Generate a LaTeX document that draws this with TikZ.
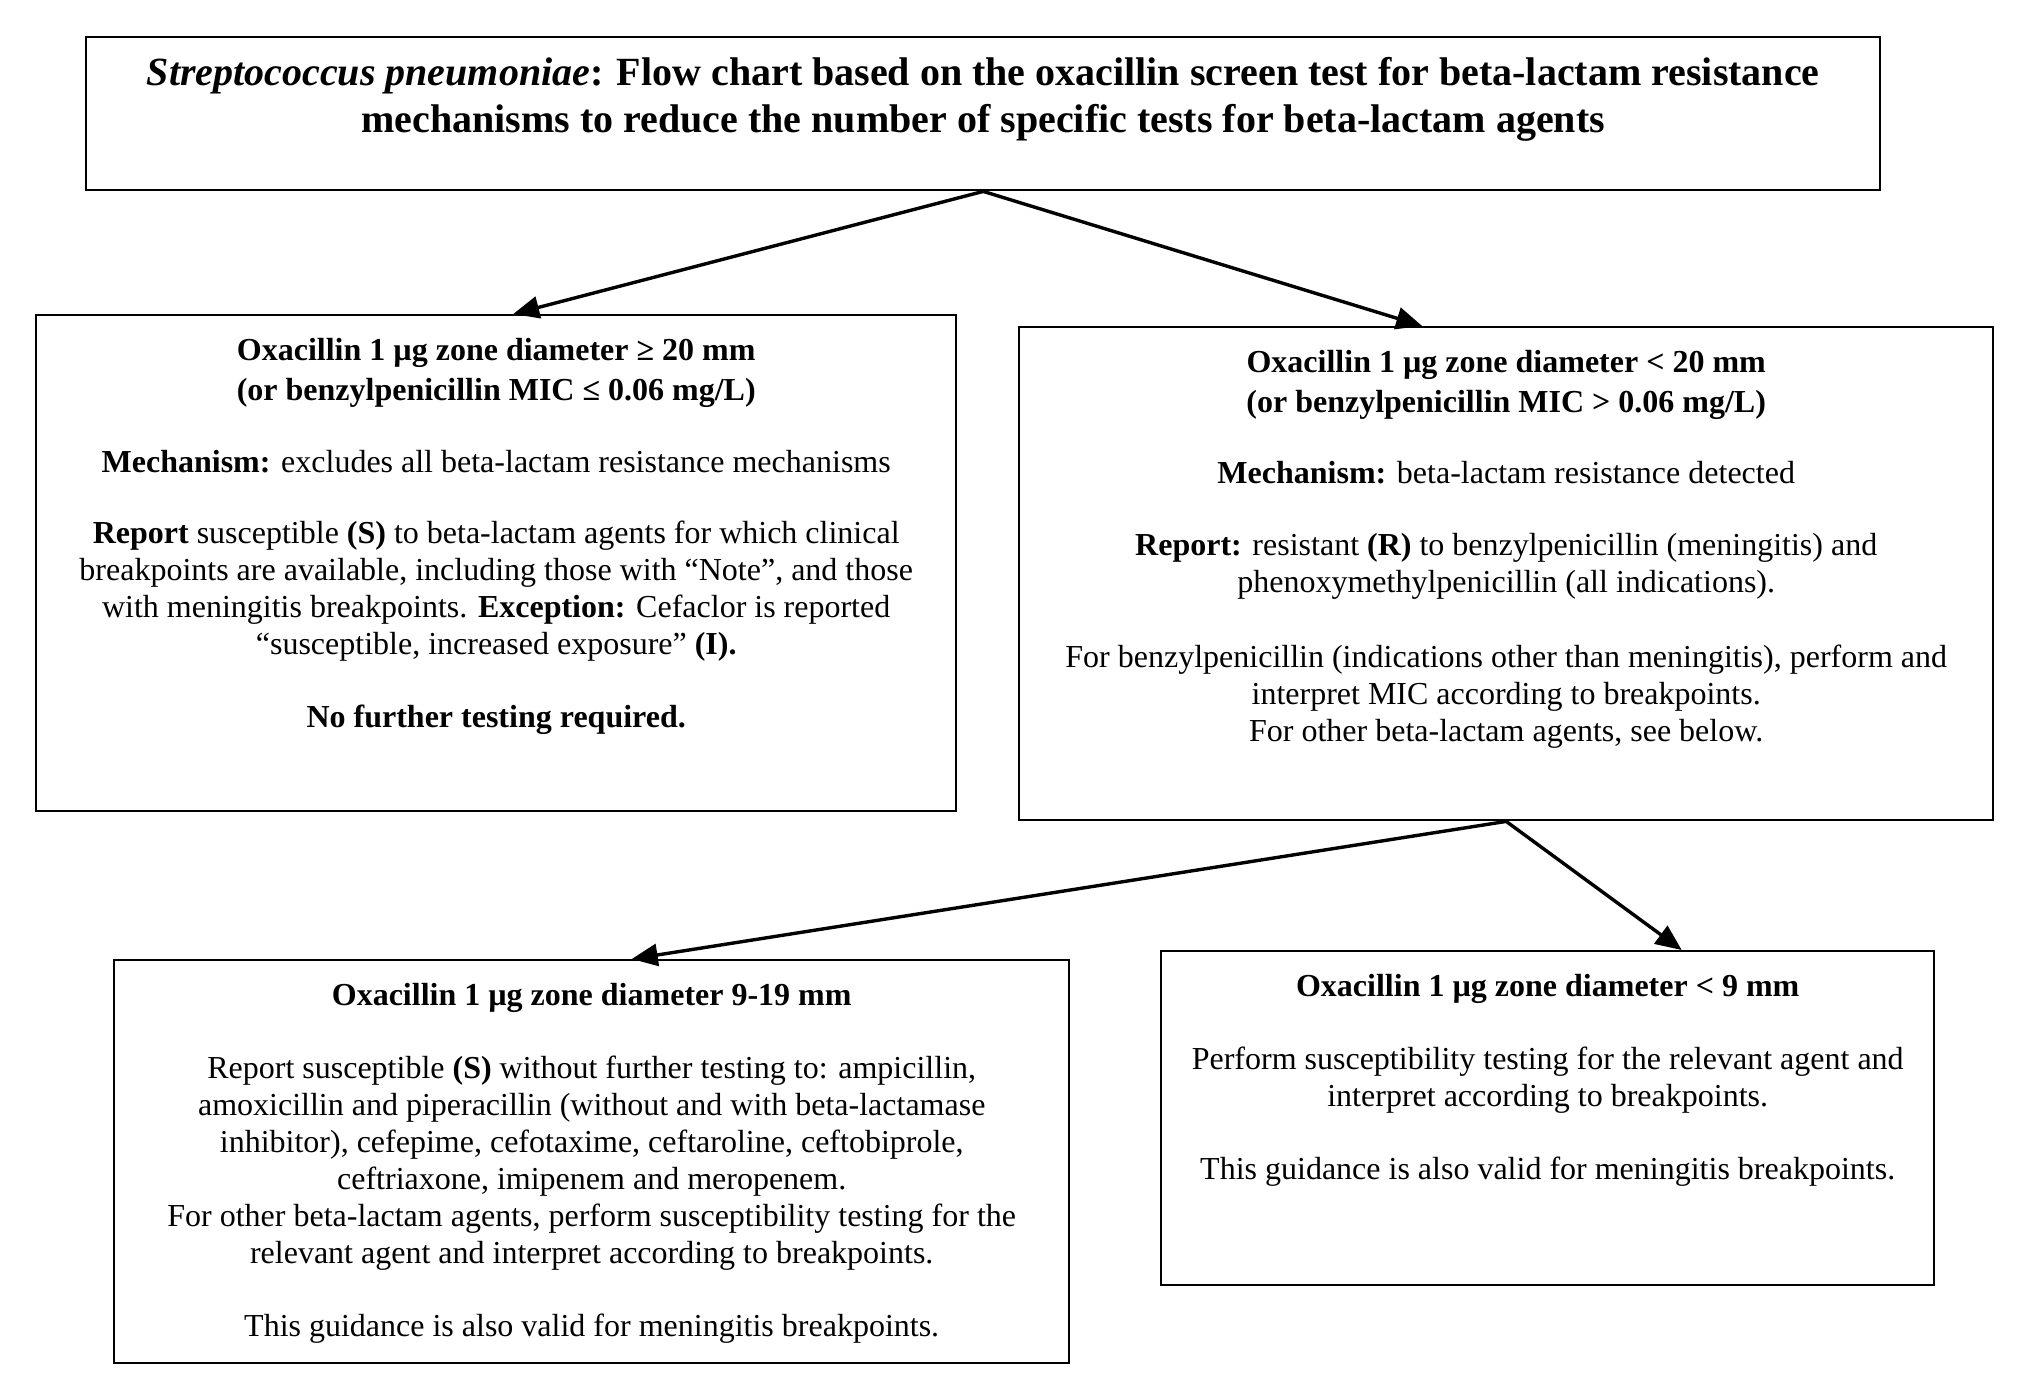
\documentclass[tikz,border=0pt]{standalone}
\usepackage{fontspec}
\setmainfont{Liberation Serif}
\usetikzlibrary{arrows.meta}
\begin{document}
\begin{tikzpicture}[x=0.5pt,y=-0.5pt,
  box/.style={draw, line width=1.2pt, anchor=north west, inner sep=0pt},
  txt/.style={anchor=north, align=center, inner sep=0pt, font=\fontsize{16}{18.5}\selectfont},
  ttl/.style={anchor=north, align=center, inner sep=0pt, font=\fontsize{20}{23.5}\selectfont\bfseries},
  conn/.style={line width=1.7pt, -{Triangle[length=13pt,width=11pt]}}
]
\useasboundingbox (0,0) rectangle (2018,1382);
% boxes
\node[box, minimum width=897pt, minimum height=76.5pt] (title) at (85,36) {};
\node[box, minimum width=460pt, minimum height=248pt] (lb) at (35,314) {};
\node[box, minimum width=487pt, minimum height=246.5pt] (rb) at (1018,326) {};
\node[box, minimum width=477.5pt, minimum height=201.5pt] (bl) at (113,959) {};
\node[box, minimum width=386.5pt, minimum height=167pt] (br) at (1160,950) {};
% texts
\node[ttl, yshift=-10.5pt] (titletext) at (title.north) {\textit{Streptococcus pneumoniae}: Flow chart based on the oxacillin screen test for beta-lactam resistance\\
mechanisms to reduce the number of specific tests for beta-lactam agents};
\node[txt, yshift=-12pt] (lbtext) at (lb.north) {\textbf{Oxacillin 1 µg zone diameter ≥ 20 mm}\\[1.5pt]
\textbf{(or benzylpenicillin MIC ≤ 0.06 mg/L)}\\[17.5pt]
\textbf{Mechanism:} excludes all beta-lactam resistance mechanisms\\[17pt]
\textbf{Report} susceptible \textbf{(S)} to beta-lactam agents for which clinical\\
breakpoints are available, including those with “Note”, and those\\
with meningitis breakpoints. \textbf{Exception:} Cefaclor is reported\\
“susceptible, increased exposure” \textbf{(I).}\\[18pt]
\textbf{No further testing required.}};
\node[txt, yshift=-12pt] (rbtext) at (rb.north) {\textbf{Oxacillin 1 µg zone diameter < 20 mm}\\[1.5pt]
\textbf{(or benzylpenicillin MIC > 0.06 mg/L)}\\[17pt]
\textbf{Mechanism:} beta-lactam resistance detected\\[17.5pt]
\textbf{Report:} resistant \textbf{(R)} to benzylpenicillin (meningitis) and\\
phenoxymethylpenicillin (all indications).\\[19pt]
For benzylpenicillin (indications other than meningitis), perform and\\
interpret MIC according to breakpoints.\\
For other beta-lactam agents, see below.};
\node[txt, yshift=-12pt] (bltext) at (bl.north) {\textbf{Oxacillin 1 µg zone diameter 9-19 mm}\\[18pt]
Report susceptible \textbf{(S)} without further testing to: ampicillin,\\
amoxicillin and piperacillin (without and with beta-lactamase\\
inhibitor), cefepime, cefotaxime, ceftaroline, ceftobiprole,\\
ceftriaxone, imipenem and meropenem.\\
For other beta-lactam agents, perform susceptibility testing for the\\
relevant agent and interpret according to breakpoints.\\[18pt]
This guidance is also valid for meningitis breakpoints.};
\node[txt, yshift=-12pt] (brtext) at (br.north) {\textbf{Oxacillin 1 µg zone diameter < 9 mm}\\[18pt]
Perform susceptibility testing for the relevant agent and\\
interpret according to breakpoints.\\[18pt]
This guidance is also valid for meningitis breakpoints.};
% connectors
\draw[conn] (title.south) -- ([xshift=8.5pt]lb.north);
\draw[conn] (title.south) -- ([xshift=-42pt]rb.north);
\draw[conn] (rb.south) -- ([xshift=20pt]bl.north);
\draw[conn] (rb.south) -- ([xshift=67pt]br.north);
\end{tikzpicture}
\end{document}
